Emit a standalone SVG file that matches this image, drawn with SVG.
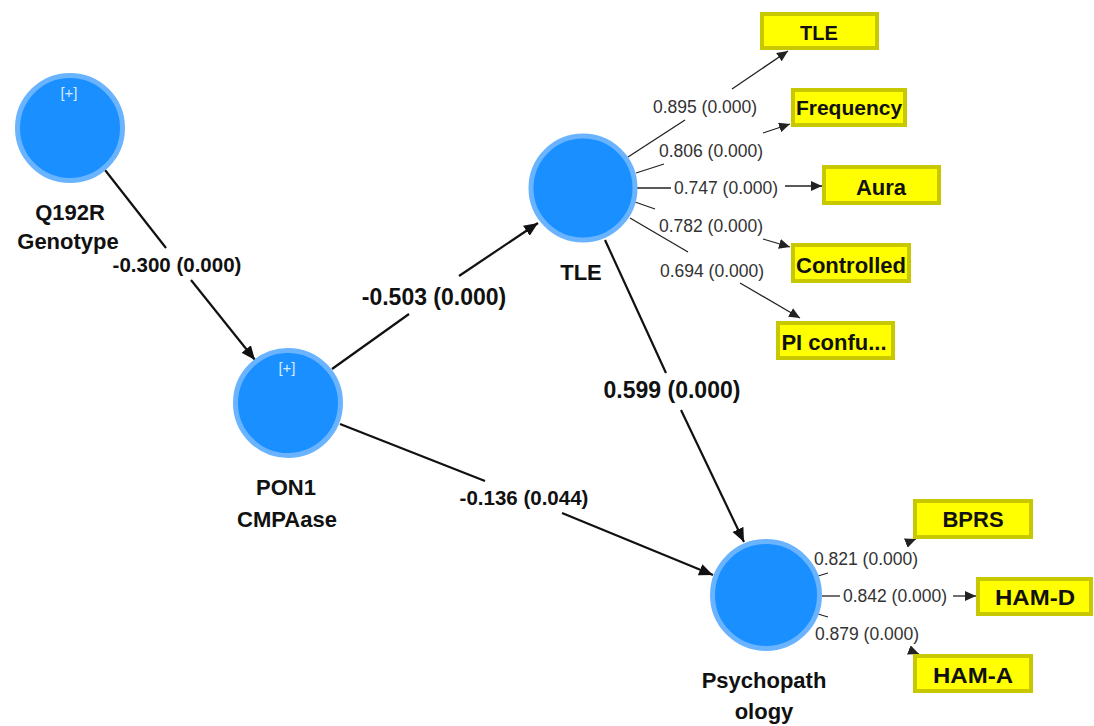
<svg xmlns="http://www.w3.org/2000/svg" width="1094" height="726" viewBox="0 0 1094 726">
  <defs>
    <marker id="arrow" markerUnits="userSpaceOnUse" markerWidth="15" markerHeight="13" refX="14" refY="6" orient="auto">
      <path d="M0,0 L14,6 L0,12 Z" fill="#111"/>
    </marker>
    <marker id="arrow-sm" markerUnits="userSpaceOnUse" markerWidth="12" markerHeight="11" refX="11" refY="5" orient="auto">
      <path d="M0,0 L11,5 L0,10 Z" fill="#222"/>
    </marker>
  </defs>
  <style>
    .latent{fill:#1a8fff;stroke:#6ab4ff;stroke-width:5}
    .plus{font-family:"Liberation Sans",Arial,sans-serif;font-size:15px;fill:#d6ebff;text-anchor:middle}
    .name{font-family:"Liberation Sans",Arial,sans-serif;font-weight:bold;font-size:22px;fill:#111;text-anchor:middle}
    .ind rect{fill:#ffff00;stroke:#c8c800;stroke-width:4}
    .ind text{font-family:"Liberation Sans",Arial,sans-serif;font-weight:bold;font-size:22px;fill:#111;text-anchor:middle}
    .path{stroke:#111;stroke-width:2.2;fill:none}
    .load{stroke:#222;stroke-width:1.3;fill:none}
    .coef{font-family:"Liberation Sans",Arial,sans-serif;font-weight:bold;font-size:20.5px;fill:#111;text-anchor:middle}
    .coef.lg{font-size:23px}
    .ld{font-family:"Liberation Sans",Arial,sans-serif;font-size:17.5px;fill:#333;text-anchor:middle}
  </style>
  <rect width="1094" height="726" fill="#fff"/>

  <!-- connectors: structural paths and outer loadings -->
  <g id="connectors">
    <!-- Q192R Genotype -> PON1 CMPAase -->
    <line class="path" x1="105" y1="170" x2="166" y2="248"/>
    <line class="path" x1="191" y1="280" x2="255" y2="360" marker-end="url(#arrow)"/>
    <text class="coef" x="177" y="272">-0.300 (0.000)</text>
    <!-- PON1 CMPAase -> TLE -->
    <line class="path" x1="332" y1="369" x2="409" y2="314"/>
    <line class="path" x1="459" y1="276" x2="538" y2="223" marker-end="url(#arrow)"/>
    <text class="coef lg" x="434" y="305">-0.503 (0.000)</text>
    <!-- TLE -> Psychopathology -->
    <line class="path" x1="605" y1="240" x2="666" y2="373"/>
    <line class="path" x1="681" y1="410" x2="744" y2="542" marker-end="url(#arrow)"/>
    <text class="coef lg" x="672" y="398">0.599 (0.000)</text>
    <!-- PON1 CMPAase -> Psychopathology -->
    <line class="path" x1="340" y1="424" x2="485" y2="481"/>
    <line class="path" x1="562" y1="513" x2="713" y2="575" marker-end="url(#arrow)"/>
    <text class="coef" x="524" y="505">-0.136 (0.044)</text>

    <!-- TLE outer loadings -->
    <line class="load" x1="628" y1="157" x2="685" y2="120"/>
    <line class="load" x1="732" y1="89" x2="788" y2="51" marker-end="url(#arrow-sm)"/>
    <text class="ld" x="705" y="113">0.895 (0.000)</text>

    <line class="load" x1="636" y1="173" x2="664" y2="164"/>
    <line class="load" x1="763" y1="133" x2="790" y2="124" marker-end="url(#arrow-sm)"/>
    <text class="ld" x="711" y="157">0.806 (0.000)</text>

    <line class="load" x1="637" y1="188" x2="671" y2="188"/>
    <line class="load" x1="785" y1="186" x2="822" y2="186" marker-end="url(#arrow-sm)"/>
    <text class="ld" x="726" y="194">0.747 (0.000)</text>

    <line class="load" x1="635" y1="202" x2="655" y2="209"/>
    <line class="load" x1="763" y1="239" x2="790" y2="247" marker-end="url(#arrow-sm)"/>
    <text class="ld" x="711" y="232">0.782 (0.000)</text>

    <line class="load" x1="630" y1="218" x2="688" y2="252"/>
    <line class="load" x1="740" y1="283" x2="800" y2="318" marker-end="url(#arrow-sm)"/>
    <text class="ld" x="712" y="277">0.694 (0.000)</text>

    <!-- Psychopathology outer loadings -->
    <line class="load" x1="818" y1="576" x2="828" y2="573"/>
    <line class="load" x1="906" y1="543" x2="916" y2="539" marker-end="url(#arrow-sm)"/>
    <text class="ld" x="866" y="565">0.821 (0.000)</text>

    <line class="load" x1="822" y1="596" x2="840" y2="596"/>
    <line class="load" x1="953" y1="596" x2="976" y2="596" marker-end="url(#arrow-sm)"/>
    <text class="ld" x="895" y="602">0.842 (0.000)</text>

    <line class="load" x1="818" y1="614" x2="828" y2="617"/>
    <line class="load" x1="909" y1="650" x2="919" y2="654" marker-end="url(#arrow-sm)"/>
    <text class="ld" x="867" y="640">0.879 (0.000)</text>
  </g>

  <!-- latent variables -->
  <g id="q192r">
    <circle class="latent" cx="70" cy="128" r="52.5"/>
    <text class="plus" x="69" y="98">[+]</text>
    <text class="name" x="70" y="220">Q192R</text>
    <text class="name" x="68" y="249">Genotype</text>
  </g>
  <g id="pon1">
    <circle class="latent" cx="288" cy="403" r="52.5"/>
    <text class="plus" x="287" y="373">[+]</text>
    <text class="name" x="286" y="495">PON1</text>
    <text class="name" x="287" y="527">CMPAase</text>
  </g>
  <g id="tle">
    <circle class="latent" cx="583" cy="188" r="52"/>
    <text class="name" x="581" y="280">TLE</text>
  </g>
  <g id="psychopathology">
    <circle class="latent" cx="766" cy="595" r="53.5"/>
    <text class="name" x="764" y="688">Psychopath</text>
    <text class="name" x="764" y="719">ology</text>
  </g>

  <!-- indicators -->
  <g id="ind-tle" class="ind">
    <rect x="762" y="14" width="115" height="34"/>
    <text x="819" y="40" style="font-size:20px">TLE</text>
  </g>
  <g id="ind-frequency" class="ind">
    <rect x="793" y="90" width="112" height="35"/>
    <text x="849" y="115" style="font-size:21px">Frequency</text>
  </g>
  <g id="ind-aura" class="ind">
    <rect x="824" y="167" width="115" height="36"/>
    <text x="881" y="195">Aura</text>
  </g>
  <g id="ind-controlled" class="ind">
    <rect x="793" y="245" width="116" height="36"/>
    <text x="851" y="273">Controlled</text>
  </g>
  <g id="ind-pi" class="ind">
    <rect x="778" y="323" width="115" height="35"/>
    <text x="834" y="350">PI confu...</text>
  </g>
  <g id="ind-bprs" class="ind">
    <rect x="915" y="501" width="116" height="36"/>
    <text x="973" y="527">BPRS</text>
  </g>
  <g id="ind-hamd" class="ind">
    <rect x="978" y="579" width="113" height="35"/>
    <text x="1035" y="605" textLength="80" lengthAdjust="spacingAndGlyphs">HAM-D</text>
  </g>
  <g id="ind-hama" class="ind">
    <rect x="915" y="656" width="116" height="35"/>
    <text x="973" y="683" textLength="80" lengthAdjust="spacingAndGlyphs">HAM-A</text>
  </g>
</svg>
